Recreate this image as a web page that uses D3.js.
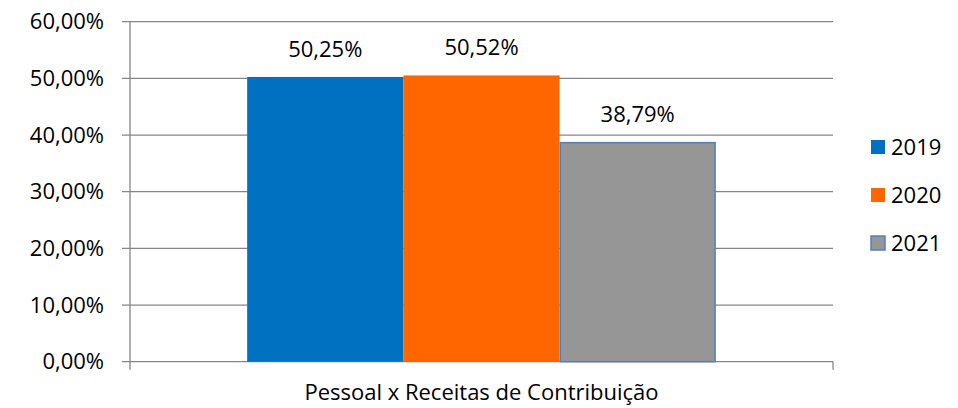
<!DOCTYPE html>
<html><head><meta charset="utf-8">
<script src="https://cdn.jsdelivr.net/npm/d3@7"></script>
<style>body{margin:0;background:#fff}svg{display:block}text{font-family:"Open Sans",sans-serif;fill:#000}</style>
</head><body><svg id="c" width="958" height="408"></svg>
<script>
const categories = ["Pessoal x Receitas de Contribuição"];
const seriesNames = ["2019", "2020", "2021"];
const values2019 = [50.25];
const values2020 = [50.52];
const values2021 = [38.79];
const yTicks = [0, 10, 20, 30, 40, 50, 60];
const colors = ["#0070C0", "#FF6600", "#969696"];

const allValues = [values2019, values2020, values2021];
const svg = d3.select("#c");
const L = 130, R = 833, T = 21.7, B = 361.7;
const fs = 22;
const y = d3.scaleLinear().domain([0, 60]).range([B, T]);
const x0 = d3.scaleBand().domain(categories).range([L, R]).paddingOuter(0.25).paddingInner(0);
const x1 = d3.scaleBand().domain(seriesNames).range([0, x0.bandwidth()]).padding(0);
const fmt = v => d3.format(".2f")(v).replace(".", ",") + "%";

svg.append("g").selectAll("line").data(yTicks).join("line")
  .attr("x1", L - 8).attr("x2", R).attr("y1", d => y(d)).attr("y2", d => y(d))
  .attr("stroke", "#868686").attr("stroke-width", 1.3);
svg.append("line").attr("x1", L).attr("x2", L).attr("y1", T).attr("y2", B + 8).attr("stroke", "#868686").attr("stroke-width", 1.3);
svg.append("line").attr("x1", R).attr("x2", R).attr("y1", B).attr("y2", B + 8).attr("stroke", "#868686").attr("stroke-width", 1.3);
svg.append("g").selectAll("text").data(yTicks).join("text")
  .attr("x", 104).attr("y", d => y(d)).attr("dy", "0.35em").attr("text-anchor", "end")
  .attr("font-size", fs).text(d => fmt(d));

const g = svg.append("g");
categories.forEach((c, ci) => {
  seriesNames.forEach((s, si) => {
    const v = allValues[si][ci];
    const bx = x0(c) + x1(s);
    const r = g.append("rect").attr("x", bx).attr("y", y(v)).attr("width", x1.bandwidth()).attr("height", B - y(v))
      .attr("fill", colors[si]);
    if (si === 2) r.attr("stroke", "#4F81BD").attr("stroke-width", 1.5)
      .attr("x", bx + 0.75).attr("width", x1.bandwidth() - 1.5).attr("y", y(v) + 0.75).attr("height", B - y(v) - 0.75);
    g.append("text").attr("x", bx + x1.bandwidth() / 2).attr("y", y(v) - 20).attr("text-anchor", "middle")
      .attr("font-size", fs).text(fmt(v));
  });
  svg.append("text").attr("x", x0(c) + x0.bandwidth() / 2).attr("y", 400).attr("text-anchor", "middle")
    .attr("font-size", fs).text(c);
});

const leg = svg.append("g");
seriesNames.forEach((s, i) => {
  const cy = 147 + i * 48;
  const r = leg.append("rect").attr("x", 871).attr("y", cy - 7).attr("width", 14).attr("height", 14).attr("fill", colors[i]);
  if (i === 2) r.attr("stroke", "#4F81BD").attr("stroke-width", 1.5);
  leg.append("text").attr("x", 891).attr("y", cy).attr("dy", "0.35em").attr("font-size", fs).text(s);
});
</script></body></html>
